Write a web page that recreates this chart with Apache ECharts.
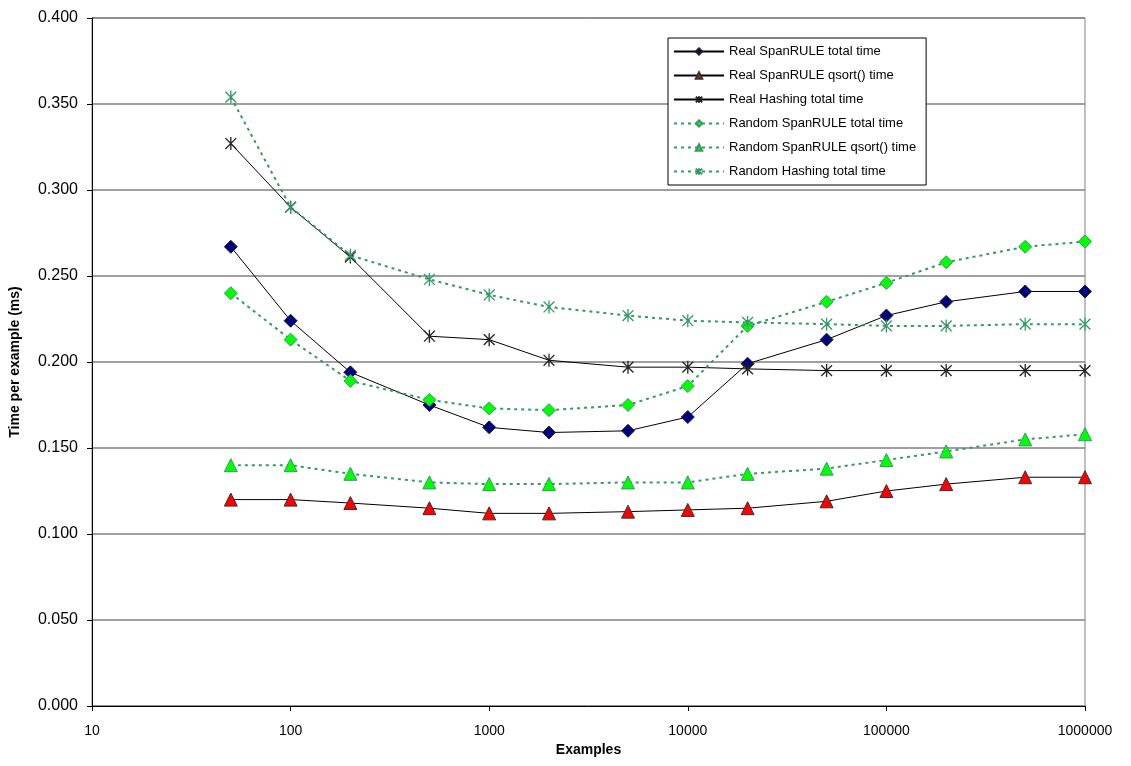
<!DOCTYPE html>
<html>
<head>
<meta charset="utf-8">
<script src="https://cdn.jsdelivr.net/npm/echarts@6/dist/echarts.min.js"></script>
<style>html,body{margin:0;padding:0;background:#fff;}#c{width:1131px;height:766px;}</style>
</head>
<body>
<div id="c"></div>
<script>
const examples = [50, 100, 200, 500, 1000, 2000, 5000, 10000, 20000, 50000, 100000, 200000, 500000, 1000000];
const realSpanTotal = [0.267, 0.224, 0.194, 0.175, 0.162, 0.159, 0.160, 0.168, 0.199, 0.213, 0.227, 0.235, 0.241, 0.241];
const realSpanQsort = [0.120, 0.120, 0.118, 0.115, 0.112, 0.112, 0.113, 0.114, 0.115, 0.119, 0.125, 0.129, 0.133, 0.133];
const realHashTotal = [0.327, 0.290, 0.261, 0.215, 0.213, 0.201, 0.197, 0.197, 0.196, 0.195, 0.195, 0.195, 0.195, 0.195];
const randSpanTotal = [0.240, 0.213, 0.189, 0.178, 0.173, 0.172, 0.175, 0.186, 0.221, 0.235, 0.246, 0.258, 0.267, 0.270];
const randSpanQsort = [0.140, 0.140, 0.135, 0.130, 0.129, 0.129, 0.130, 0.130, 0.135, 0.138, 0.143, 0.148, 0.155, 0.158];
const randHashTotal = [0.354, 0.290, 0.262, 0.248, 0.239, 0.232, 0.227, 0.224, 0.223, 0.222, 0.221, 0.221, 0.222, 0.222];
const seriesNames = ['Real SpanRULE total time', 'Real SpanRULE qsort() time', 'Real Hashing total time',
  'Random SpanRULE total time', 'Random SpanRULE qsort() time', 'Random Hashing total time'];

const star = 'path://M0,0L10,10M10,0L0,10M5,-1L5,11';
const font = 'Liberation Sans';
const pairs = arr => examples.map((x, i) => [x, arr[i]]);
const solid = {color: '#000', width: 1, type: 'solid'};
const dots = {color: '#339966', width: 2, type: [3, 4]};

function mk(name, data, symbol, size, item, line) {
  return {
    name, type: 'line', data: pairs(data), symbol, symbolSize: size,
    symbolKeepAspect: true, showAllSymbol: true,
    itemStyle: item, lineStyle: line, emphasis: {disabled: true}, animation: false
  };
}

const chart = echarts.init(document.getElementById('c'), null, {renderer: 'canvas'});
chart.setOption({
  backgroundColor: '#fff',
  animation: false,
  grid: {left: 92, right: 46, top: 18, bottom: 60, show: true, borderColor: '#808080', borderWidth: 1, backgroundColor: 'transparent'},
  legend: {
    orient: 'vertical', left: 668, top: 38,
    data: seriesNames,
    backgroundColor: '#fff', borderColor: '#000', borderWidth: 1,
    padding: [7, 10, 7, 5], itemWidth: 50, itemHeight: 8, itemGap: 11,
    textStyle: {fontFamily: font, fontSize: 13, color: '#000'},
    inactiveColor: '#000'
  },
  xAxis: {
    type: 'log', logBase: 10, min: 10, max: 1000000,
    name: 'Examples', nameLocation: 'middle', nameGap: 36,
    nameTextStyle: {fontFamily: font, fontSize: 14, fontWeight: 'bold', color: '#000'},
    axisLine: {show: true, onZero: false, lineStyle: {color: '#000', width: 1}},
    axisTick: {show: true, inside: false, length: 5, lineStyle: {color: '#000'}},
    minorTick: {show: false},
    splitLine: {show: false},
    axisLabel: {fontFamily: font, fontSize: 14, color: '#000', margin: 18,
      formatter: v => String(Math.round(v))}
  },
  yAxis: {
    type: 'value', min: 0, max: 0.4, interval: 0.05,
    name: 'Time per example (ms)', nameLocation: 'middle', nameGap: 70,
    nameTextStyle: {fontFamily: font, fontSize: 14, fontWeight: 'bold', color: '#000'},
    axisLine: {show: true, lineStyle: {color: '#000', width: 1}},
    axisTick: {show: true, inside: false, length: 5, lineStyle: {color: '#000'}},
    splitLine: {show: true, lineStyle: {color: '#808080', width: 1.5}},
    axisLabel: {fontFamily: font, fontSize: 16, color: '#000', margin: 14,
      formatter: v => v.toFixed(3)}
  },
  series: [
    mk(seriesNames[0], realSpanTotal, 'diamond', 13, {color: '#000080', borderColor: '#222', borderWidth: 1}, solid),
    mk(seriesNames[1], realSpanQsort, 'triangle', 13, {color: '#ff0000', borderColor: '#333', borderWidth: 1}, solid),
    mk(seriesNames[2], realHashTotal, star, 13, {color: 'transparent', borderColor: '#222', borderWidth: 1.3}, solid),
    mk(seriesNames[3], randSpanTotal, 'diamond', 13, {color: '#00ff00', borderColor: '#339966', borderWidth: 1}, dots),
    mk(seriesNames[4], randSpanQsort, 'triangle', 13, {color: '#00ff00', borderColor: '#339966', borderWidth: 1}, dots),
    mk(seriesNames[5], randHashTotal, star, 13, {color: 'transparent', borderColor: '#339966', borderWidth: 1.3}, dots)
  ]
});
</script>
</body>
</html>
